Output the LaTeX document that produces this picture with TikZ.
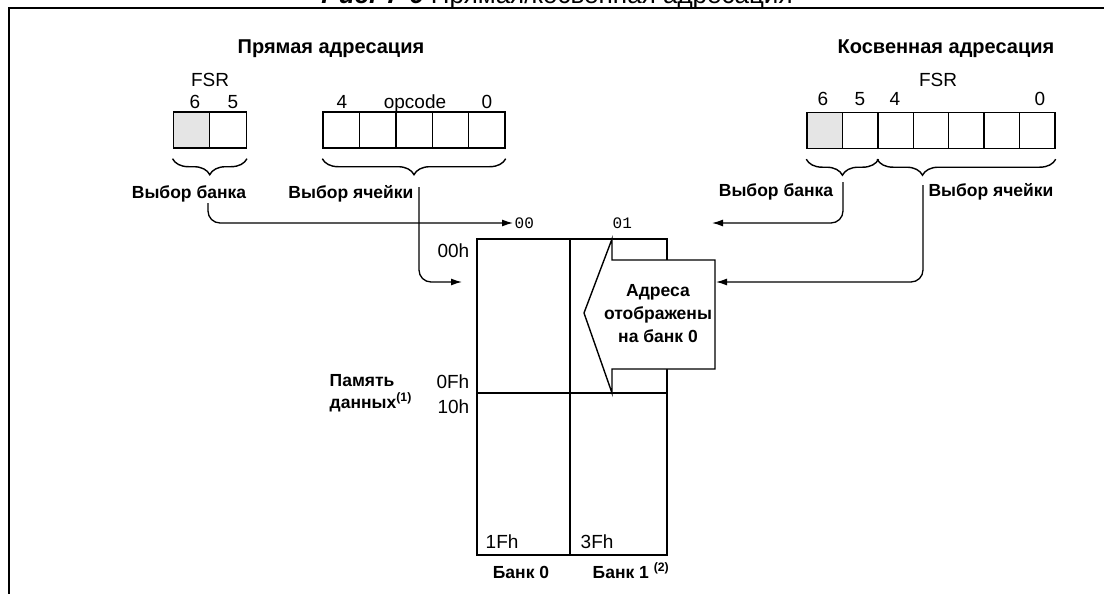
\documentclass[tikz,border=0pt]{standalone}
\usepackage{fontspec}
\setmainfont{Liberation Sans}
\setmonofont{Liberation Mono}
\usetikzlibrary{arrows.meta,decorations.pathreplacing}

\begin{document}
\begin{tikzpicture}[x=1pt, y=-1pt, line width=1.4pt, >={Latex[length=11pt,width=7pt]},
    cell/.style={draw, minimum width=#1, minimum height=36pt, inner sep=0pt},
    cell/.default=36.4pt,
    head/.style={font=\fontsize{20}{24}\selectfont\bfseries, anchor=base, inner sep=0pt},
    lbl/.style={font=\fontsize{17.5}{23}\selectfont\bfseries, inner sep=0pt},
    num/.style={font=\fontsize{19}{22}\selectfont, inner sep=0pt},
    brc/.style={decorate, decoration={brace, mirror, amplitude=16pt, #1}},
    brc/.default={aspect=0.5},
    link/.style={->, line width=1.3pt, rounded corners=12pt}]
    \useasboundingbox (0,0) rectangle (1104,594);

    % 1. Рамка и заголовок
    \draw[line width=1.6pt] (9,594) -- (9,8) -- (1104,8);
    \node[font=\fontsize{26}{30}\selectfont, inner sep=0pt, anchor=base] (title) at (557,4)
        {\textbf{\textit{Рис. 7-6}} Прямая/косвенная адресация};

    % 2. Прямая адресация: FSR<6:5> и opcode<4:0>
    \node[head] (dhead) at (331,54) {Прямая адресация};
    \node[num, anchor=base] (dfsr) at (210,87) {FSR};
    \foreach \i/\c in {0/gray!20, 1/white}
        \node[cell=36.5pt, fill=\c] (d\i) at ({191.5+36.5*\i},130) {};
    \node[num, anchor=base] (dsix) at (195,109) {6};
    \node[num, anchor=base] (dfive) at (233,109) {5};
    \foreach \i in {0,...,4}
        \node[cell] (op\i) at ({341.2+36.4*\i},130) {};
    \node[num, anchor=base] (opfour) at (342,109) {4};
    \node[num, anchor=base] (opname) at (415,109) {opcode};
    \node[num, anchor=base] (opzero) at (487,109) {0};

    \draw[brc] ([yshift=-10pt]d0.south west) -- ([yshift=-10pt]d1.south east);
    \draw[brc] ([yshift=-10pt]op0.south west) -- ([yshift=-10pt]op4.south east);
    \node[lbl, anchor=base] (dbank) at (189,198) {Выбор банка};
    \node[lbl, anchor=base] (dcell) at (351,198) {Выбор ячейки};

    % 3. Косвенная адресация: FSR<6:0>
    \node[head] (ihead) at (946,54) {Косвенная адресация};
    \node[num, anchor=base] (ifsr) at (938,87) {FSR};
    \foreach \i/\c in {0/gray!20, 1/white, 2/white, 3/white, 4/white, 5/white, 6/white}
        \node[cell=35.43pt, fill=\c] (i\i) at ({824.7+35.43*\i},130.5) {};
    \node[num, anchor=base] (isix) at (823,106) {6};
    \node[num, anchor=base] (ifive) at (860,106) {5};
    \node[num, anchor=base] (ifour) at (895,106) {4};
    \node[num, anchor=base] (izero) at (1040,106) {0};

    \draw[brc] ([yshift=-10pt]i0.south west) -- ([yshift=-10pt]i1.south east);
    \draw[brc={aspect=0.254}] ([yshift=-10pt]i2.south west) -- ([yshift=-10pt]i6.south east);
    \node[lbl, anchor=base] (ibank) at (776,196) {Выбор банка};
    \node[lbl, anchor=base] (icell) at (991,196) {Выбор ячейки};

    % 4. Память данных: банк 0 и банк 1
    \draw (477,239) rectangle (667,555);
    \draw (570,239) -- (570,555);
    \draw (477,393) -- (667,393);
    \draw[fill=white] (612,239) -- (612,260) -- (715,260) -- (715,369)
        -- (612,369) -- (612,393) -- (584,313) -- cycle;
    \node[lbl, align=center] (maptxt) at (658,314) {Адреса\\отображены\\на банк 0};

    \node[num, anchor=base east] (h00) at (470,257) {00h};
    \node[num, anchor=base east] (h0f) at (470,388) {0Fh};
    \node[num, anchor=base east] (h10) at (470,413) {10h};
    \node[num, anchor=base west] (h1f) at (485,548) {1Fh};
    \node[num, anchor=base west] (h3f) at (580,548) {3Fh};
    \node[lbl, anchor=base] (bank0) at (521,578) {Банк 0};
    \node[lbl, anchor=base west] (bank1) at (592,578) {Банк 1 \textsuperscript{(2)}};
    \node[lbl, anchor=base west] (memA) at (329,386) {Память};
    \node[lbl, anchor=base west] (memB) at (329,408) {данных\textsuperscript{(1)}};

    \node[font=\fontsize{16}{18}\selectfont\ttfamily, inner sep=1pt, anchor=west] (b00) at (513,223) {00};
    \node[font=\fontsize{16}{18}\selectfont\ttfamily, inner sep=1pt, anchor=west] (b01) at (611,223) {01};

    % 5. Связи
    \coordinate (dbsel) at (208,203);
    \coordinate (dcsel) at (419,187);
    \coordinate (din) at (462,282);
    \coordinate (ibsel) at (843,182);
    \coordinate (icsel) at (923,185);
    \coordinate (iin0) at (712,223);
    \coordinate (iin1) at (716,282);
    \draw[link] (dbsel) |- (b00.west);
    \draw[link] (dcsel) |- (din);
    \draw[link] (ibsel) |- (iin0);
    \draw[link] (icsel) |- (iin1);

\end{tikzpicture}
\end{document}
